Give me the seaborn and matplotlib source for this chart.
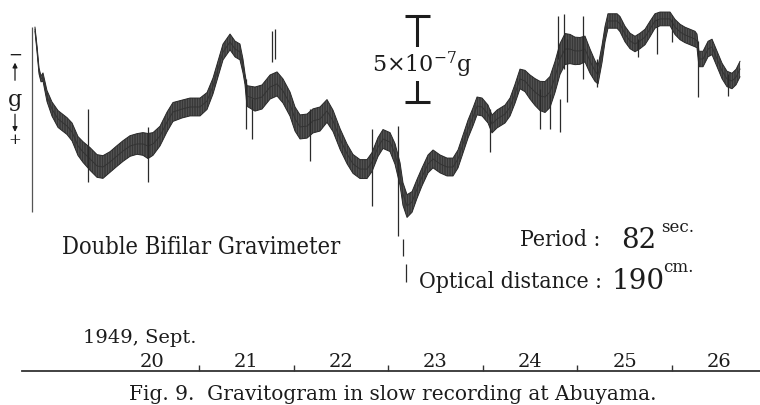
import matplotlib
matplotlib.use("Agg")
import matplotlib.pyplot as plt
import seaborn as sns
import pandas as pd

# Recording time, day of September 1949 (decimal days)
sept_day = [
    19.266, 19.288, 19.309, 19.330, 19.351, 19.393, 19.446, 19.510, 19.605, 19.658,
    19.721, 19.774, 19.848, 19.922, 19.985, 20.059, 20.133, 20.197, 20.271, 20.345,
    20.408, 20.461, 20.514, 20.588, 20.662, 20.725, 20.820, 20.905, 21.011, 21.085,
    21.148, 21.201, 21.254, 21.328, 21.381, 21.433, 21.465, 21.486, 21.507, 21.592,
    21.666, 21.751, 21.825, 21.888, 21.962, 22.015, 22.068, 22.142, 22.205, 22.279,
    22.353, 22.417, 22.491, 22.565, 22.628, 22.702, 22.776, 22.829, 22.892, 22.945,
    23.019, 23.072, 23.125, 23.156, 23.199, 23.252, 23.304, 23.357, 23.421, 23.474,
    23.548, 23.622, 23.685, 23.738, 23.791, 23.844, 23.896, 23.939, 23.992, 24.055,
    24.097, 24.150, 24.235, 24.288, 24.340, 24.393, 24.446, 24.499, 24.552, 24.605,
    24.658, 24.710, 24.763, 24.816, 24.869, 24.922, 24.975, 25.027, 25.080, 25.133,
    25.186, 25.218, 25.260, 25.292, 25.323, 25.366, 25.419, 25.450, 25.503, 25.556,
    25.609, 25.662, 25.715, 25.767, 25.820, 25.873, 25.926, 25.979, 26.032, 26.085,
    26.137, 26.190, 26.243, 26.264, 26.285, 26.328, 26.381, 26.423, 26.476, 26.529,
    26.581, 26.634, 26.677, 26.719,
]

# Gravity change in units of 1e-7 g (positive = increase of g, plotted downward)
delta_g = [
    0.76, 1.92, 3.20, 3.66, 3.55, 4.65, 5.41, 5.99, 6.40, 6.74,
    7.56, 7.91, 8.31, 8.72, 8.78, 8.49, 8.14, 7.85, 7.56, 7.44,
    7.44, 7.56, 7.44, 6.98, 6.16, 5.58, 5.41, 5.29, 5.29, 4.94,
    4.07, 3.08, 2.09, 1.51, 1.92, 2.09, 2.91, 3.66, 4.65, 4.83,
    4.71, 4.13, 3.95, 4.36, 5.12, 5.99, 6.45, 6.40, 6.10, 5.99,
    5.52, 6.10, 7.15, 8.02, 8.60, 8.90, 8.90, 8.49, 7.62, 7.15,
    7.33, 8.02, 9.19, 10.35, 11.05, 10.81, 10.06, 9.36, 8.60, 8.31,
    8.60, 8.78, 8.78, 8.31, 7.44, 6.57, 5.87, 5.23, 5.29, 5.70,
    6.28, 5.99, 5.70, 5.29, 4.53, 3.66, 3.78, 4.13, 4.42, 4.65,
    4.71, 4.42, 3.55, 2.50, 1.92, 1.92, 2.03, 2.03, 1.92, 2.62,
    3.20, 3.43, 2.21, 1.05, 0.29, 0.29, 0.29, 0.47, 1.05, 1.45,
    1.63, 1.45, 1.22, 0.76, 0.29, 0.17, 0.17, 0.17, 0.64, 0.93,
    1.10, 1.22, 1.34, 1.45, 2.50, 2.50, 1.92, 1.80, 2.50, 3.20,
    3.66, 3.78, 3.55, 3.08,
]

# Half-width of the recorded band caused by microseisms (1e-7 g)
band_half = [
    0.12, 0.17, 0.17, 0.17, 0.24, 0.32, 0.41, 0.49, 0.49, 0.52,
    0.55, 0.60, 0.66, 0.66, 0.66, 0.60, 0.60, 0.60, 0.60, 0.60,
    0.66, 0.73, 0.66, 0.57, 0.57, 0.55, 0.52, 0.52, 0.52, 0.49,
    0.46, 0.46, 0.46, 0.46, 0.46, 0.46, 0.40, 0.32, 0.60, 0.70,
    0.70, 0.70, 0.70, 0.70, 0.70, 0.70, 0.70, 0.70, 0.70, 0.70,
    0.66, 0.62, 0.60, 0.57, 0.55, 0.55, 0.55, 0.55, 0.55, 0.55,
    0.55, 0.60, 0.66, 0.66, 0.66, 0.60, 0.55, 0.52, 0.52, 0.52,
    0.52, 0.52, 0.52, 0.52, 0.52, 0.52, 0.52, 0.52, 0.52, 0.52,
    0.52, 0.52, 0.52, 0.52, 0.55, 0.57, 0.62, 0.70, 0.78, 0.85,
    0.90, 0.90, 0.90, 0.90, 0.90, 0.85, 0.80, 0.78, 0.75, 0.70,
    0.60, 0.52, 0.50, 0.45, 0.42, 0.42, 0.42, 0.44, 0.45, 0.45,
    0.45, 0.45, 0.45, 0.45, 0.42, 0.40, 0.40, 0.40, 0.44, 0.45,
    0.45, 0.45, 0.45, 0.40, 0.45, 0.45, 0.45, 0.45, 0.45, 0.45,
    0.45, 0.45, 0.45, 0.45,
]

# Short disturbances on the record: time, upper and lower excursion (1e-7 g)
spike_day = [19.827, 20.461, 21.497, 21.560, 21.772, 21.803, 22.173, 22.829,
             23.104, 23.156, 23.188, 24.076, 24.605, 24.710, 24.795, 24.816,
             24.858, 24.890, 25.059, 25.207, 25.641, 25.841, 26.000, 26.275,
             26.592]
spike_top = [5.41, 6.45, 3.66, 4.83, 0.87, 0.76, 5.41, 6.57,
             6.40, 12.97, 14.42, 5.41, 4.24, 4.53, 0.00, 4.83,
             -0.12, 1.34, 0.00, 2.50, 1.34, 0.17, 0.17, 1.45,
             3.37]
spike_bottom = [9.65, 9.65, 6.57, 7.15, 2.67, 2.50, 8.43, 11.05,
                12.79, 13.95, 15.47, 7.91, 6.57, 6.57, 2.50, 6.74,
                3.08, 5.00, 3.66, 4.13, 2.38, 2.21, 1.51, 4.71,
                4.65]

# Start mark of the record
start_day = 19.235
start_span = [0.64, 11.40]

# Calibration bar
scale_day = 23.304
scale_bar = 5.0

# Time axis
day_bounds = [21, 22, 23, 24, 25, 26]
day_centres = [20.5, 21.5, 22.5, 23.5, 24.5, 25.5, 26.5]
day_labels = ["20", "21", "22", "23", "24", "25", "26"]

record = pd.DataFrame({"day": sept_day, "dg": delta_g, "half": band_half})
record["upper"] = record["dg"] - record["half"]
record["lower"] = record["dg"] + record["half"]

sns.set_theme(style="white")
plt.rcParams["font.family"] = ["DejaVu Serif"]
plt.rcParams["mathtext.fontset"] = "dejavuserif"
plt.rcParams["hatch.linewidth"] = 0.45

ink = "#1c1c1c"

fig = plt.figure(figsize=(7.6, 4.06), dpi=100)
fig.patch.set_facecolor("white")
ax = fig.add_axes([22 / 760, 1 - 372 / 406, 738 / 760, 372 / 406])
ax.set_facecolor("white")
ax.set_xlim(19.129, 26.930)
ax.set_ylim(20.64, -0.988)

# recorded band with its fine vertical texture
ax.fill_between(record["day"], record["upper"], record["lower"],
                facecolor="#585858", edgecolor="#262626", hatch="||||||||||",
                linewidth=0)
ax.plot(record["day"], record["upper"], color="#2a2a2a", linewidth=0.7)
ax.plot(record["day"], record["lower"], color="#2a2a2a", linewidth=0.7)
sns.lineplot(data=record, x="day", y="dg", ax=ax, color="#333333",
             linewidth=0.7, sort=False, legend=False)
ax.vlines(spike_day, spike_top, spike_bottom, color="#2a2a2a", linewidth=0.9)
ax.vlines([start_day], start_span[0], start_span[1], color="#555555", linewidth=0.9)

# calibration bar
ax.errorbar([scale_day], [scale_bar / 2], yerr=[[scale_bar / 2], [scale_bar / 2]],
            fmt="none", ecolor=ink, elinewidth=2.2, capsize=9, capthick=2.2)
ax.text(scale_day + 0.06, 2.79, r"5$\times$10$^{-7}$g", ha="center", va="center",
        fontsize=16, color=ink,
        bbox=dict(facecolor="white", edgecolor="none", pad=1.5))

# direction of g
ax.text(19.055, 2.21, "\u2212", ha="center", va="center", fontsize=12, color=ink)
ax.text(19.055, 4.83, "g", ha="center", va="center", fontsize=16, color=ink)
ax.text(19.055, 7.15, "+", ha="center", va="center", fontsize=11, color=ink)
ax.annotate("", xy=(19.055, 2.55), xytext=(19.055, 3.90), annotation_clip=False,
            arrowprops=dict(arrowstyle="-|>", color=ink, lw=0.9, mutation_scale=7))
ax.annotate("", xy=(19.055, 6.90), xytext=(19.055, 5.55), annotation_clip=False,
            arrowprops=dict(arrowstyle="-|>", color=ink, lw=0.9, mutation_scale=7))

# instrument notes
ax.text(21.026, 13.43, "Double Bifilar Gravimeter", ha="center", va="center",
        fontsize=17, fontstretch="condensed", color=ink)
ax.text(25.239, 12.97, "Period :", ha="right", va="center",
        fontsize=16.5, fontstretch="condensed", color=ink)
ax.text(25.461, 12.97, "82", ha="left", va="center", fontsize=20, color=ink)
ax.text(25.884, 12.21, "sec.", ha="left", va="center", fontsize=12, color=ink)
ax.text(25.260, 15.41, "Optical distance :", ha="right", va="center",
        fontsize=16.5, fontstretch="condensed", color=ink)
ax.text(25.366, 15.35, "190", ha="left", va="center", fontsize=20, color=ink)
ax.text(25.905, 14.59, "cm.", ha="left", va="center", fontsize=12, color=ink)
ax.text(20.376, 18.66, "1949, Sept.", ha="center", va="center", fontsize=14, color=ink)

# time axis
for side in ["top", "left", "right"]:
    ax.spines[side].set_visible(False)
ax.spines["bottom"].set_color("#333333")
ax.spines["bottom"].set_linewidth(1.3)
ax.set_yticks([])
ax.set_xticks(day_bounds)
ax.set_xticklabels([])
ax.set_xticks(day_centres, minor=True)
ax.set_xticklabels(day_labels, minor=True)
ax.tick_params(axis="x", which="major", direction="in", length=4, width=1,
               color="#333333", bottom=True)
ax.tick_params(axis="x", which="minor", length=0, pad=-14, labelsize=14,
               labelcolor=ink, bottom=True)
ax.set_xlabel("")
ax.set_ylabel("")

fig.text(393 / 760, 11 / 406, "Fig. 9.  Gravitogram in slow recording at Abuyama.",
         ha="center", va="center", fontsize=14.5, color=ink)

fig.savefig("out.png", dpi=100, facecolor="white")
